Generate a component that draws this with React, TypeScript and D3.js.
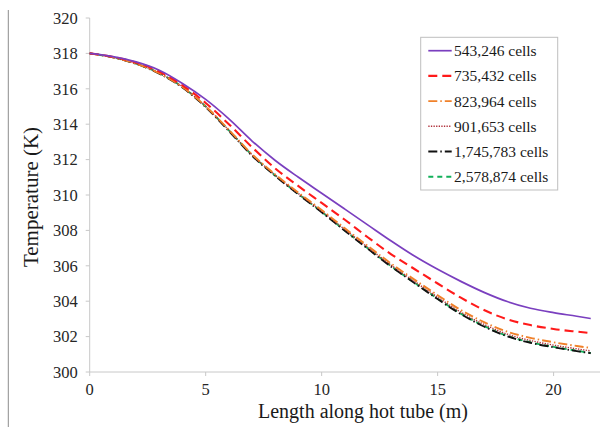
import * as d3 from 'd3';

const lengths = [0, 1, 2, 3, 4, 5, 6, 7, 8, 9, 10, 11, 12, 13, 14, 15, 16, 17, 18, 19, 20, 21, 21.6];

const cells543k = [318.0, 317.82, 317.52, 317.05, 316.3, 315.4, 314.3, 313.05, 311.95, 311.0, 310.1, 309.2, 308.3, 307.4, 306.55, 305.8, 305.12, 304.5, 303.98, 303.6, 303.35, 303.15, 303.02];
const cells735k = [318.0, 317.8, 317.48, 316.98, 316.2, 315.2, 314.0, 312.7, 311.5, 310.5, 309.55, 308.6, 307.6, 306.65, 305.82, 305.0, 304.2, 303.5, 302.98, 302.65, 302.43, 302.28, 302.2];
const cells823k = [318.0, 317.78, 317.42, 316.88, 316.1, 315.01, 313.68, 312.3, 311.16, 310.13, 309.15, 308.12, 307.11, 306.12, 305.22, 304.34, 303.5, 302.82, 302.28, 301.93, 301.68, 301.47, 301.36];
const cells901k = [318.0, 317.78, 317.42, 316.88, 316.1, 315.0, 313.66, 312.27, 311.12, 310.08, 309.09, 308.05, 307.03, 306.03, 305.12, 304.23, 303.38, 302.69, 302.14, 301.78, 301.52, 301.31, 301.19];
const cells1745k = [318.0, 317.78, 317.41, 316.86, 316.07, 314.97, 313.62, 312.22, 311.08, 310.03, 309.03, 307.98, 306.95, 305.95, 305.03, 304.12, 303.27, 302.57, 302.02, 301.65, 301.4, 301.18, 301.06];
const cells2578k = [318.0, 317.78, 317.42, 316.88, 316.1, 315.0, 313.65, 312.25, 311.1, 310.05, 309.05, 308.0, 306.98, 305.97, 305.05, 304.15, 303.3, 302.6, 302.05, 301.68, 301.42, 301.2, 301.08];

const seriesLabels = ['543,246 cells', '735,432 cells', '823,964 cells', '901,653 cells', '1,745,783 cells', '2,578,874 cells'];

const xTicks = [0, 5, 10, 15, 20];
const yTicks = [300, 302, 304, 306, 308, 310, 312, 314, 316, 318, 320];

type SeriesStyle = { color: string; dash: string | null; width: number };

const styles: SeriesStyle[] = [
    { color: '#7a3fbf', dash: null, width: 1.7 },
    { color: '#ff1a1a', dash: '9 5', width: 2.1 },
    { color: '#f0812a', dash: '9 3 1.5 3', width: 1.9 },
    { color: '#b0303a', dash: '1.3 1.3', width: 1.4 },
    { color: '#111111', dash: '9 3 1.5 3', width: 1.9 },
    { color: '#12b05a', dash: '5 4', width: 1.9 },
];

const series = [cells543k, cells735k, cells823k, cells901k, cells1745k, cells2578k];

const W = 609;
const H = 427;
const plotLeft = 89.7;
const plotRight = 600;
const plotTop = 18;
const plotBottom = 372;
const font = "'Liberation Serif', 'Times New Roman', 'DejaVu Serif', serif";

export default function App() {
    const x = d3.scaleLinear().domain([0, 22]).range([plotLeft, plotRight]);
    const y = d3.scaleLinear().domain([300, 320]).range([plotBottom, plotTop]);

    const line = d3
        .line<number>()
        .x((_, i) => x(lengths[i]))
        .y((v) => y(v))
        .curve(d3.curveMonotoneX);

    const legendX = 420.7;
    const legendY = 37.3;
    const legendRow = 25.2;

    return (
        <svg width={W} height={H} style={{ position: 'absolute', left: 0, top: 0, background: '#fff', fontFamily: font }}>
            <rect width={W} height={H} fill="#fff" />
            <line x1={8.3} x2={8.3} y1={10} y2={H} stroke="#8c8c8c" strokeWidth={1} />

            {/* axes */}
            <line x1={plotLeft} x2={plotLeft} y1={plotTop} y2={plotBottom} stroke="#c8c8c8" />
            <line x1={plotLeft} x2={plotRight} y1={plotBottom} y2={plotBottom} stroke="#c8c8c8" />
            {yTicks.map((t) => (
                <g key={`y${t}`}>
                    <line x1={plotLeft - 4} x2={plotLeft} y1={y(t)} y2={y(t)} stroke="#c8c8c8" />
                    <text x={plotLeft - 12} y={y(t)} dy="0.35em" textAnchor="end" fontSize={16.5} fill="#262626" style={{ fontFamily: font }}>
                        {t}
                    </text>
                </g>
            ))}
            {xTicks.map((t) => (
                <g key={`x${t}`}>
                    <line x1={x(t)} x2={x(t)} y1={plotBottom} y2={plotBottom + 4} stroke="#c8c8c8" />
                    <text x={x(t)} y={plotBottom + 17.5} dy="0.35em" textAnchor="middle" fontSize={16.5} fill="#262626" style={{ fontFamily: font }}>
                        {t}
                    </text>
                </g>
            ))}
            <text x={363} y={410.5} dy="0.35em" textAnchor="middle" fontSize={20} fill="#1a1a1a" style={{ fontFamily: font }}>
                Length along hot tube (m)
            </text>
            <text
                transform="translate(31, 197) rotate(-90)"
                dy="0.35em"
                textAnchor="middle"
                fontSize={21}
                fill="#1a1a1a"
                style={{ fontFamily: font }}
            >
                Temperature (K)
            </text>

            {/* finest mesh drawn first, coarse mesh on top */}
            {series
                .map((values, i) => ({ values, i }))
                .reverse()
                .map(({ values, i }) => (
                    <path
                        key={seriesLabels[i]}
                        d={line(values) ?? ''}
                        fill="none"
                        stroke={styles[i].color}
                        strokeWidth={styles[i].width}
                        strokeDasharray={styles[i].dash ?? undefined}
                    />
                ))}

            {/* legend */}
            <rect x={legendX} y={legendY} width={137} height={152.7} fill="#fff" stroke="#bfbfbf" />
            {seriesLabels.map((label, i) => {
                const rowY = 50.7 + i * legendRow;
                return (
                    <g key={label}>
                        <line
                            x1={428.3}
                            x2={451.7}
                            y1={rowY}
                            y2={rowY}
                            stroke={styles[i].color}
                            strokeWidth={styles[i].width}
                            strokeDasharray={styles[i].dash ?? undefined}
                        />
                        <text x={454} y={rowY} dy="0.35em" fontSize={15.5} fill="#1a1a1a" style={{ fontFamily: font }}>
                            {label}
                        </text>
                    </g>
                );
            })}
        </svg>
    );
}
